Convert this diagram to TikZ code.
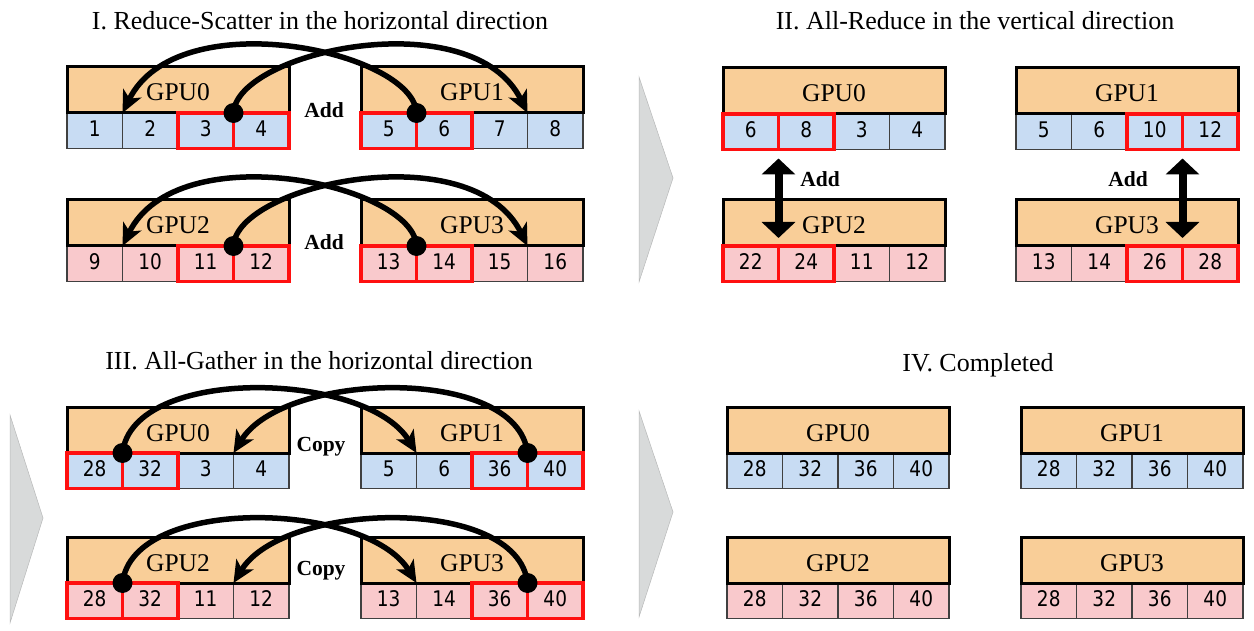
\documentclass[tikz,border=0pt]{standalone}
\usepackage{fontspec}
\setmainfont{Liberation Serif}
\newfontfamily\cellfont[FakeStretch=0.86]{DejaVu Sans}
\usetikzlibrary{arrows.meta,calc}
\definecolor{gpuor}{HTML}{F9CE98}
\definecolor{cblue}{HTML}{C8DCF3}
\definecolor{cpink}{HTML}{F9C9CC}
\definecolor{cgray}{HTML}{404040}
\definecolor{hired}{HTML}{FF1010}
\definecolor{chev}{HTML}{D8DADA}
\tikzset{
  gpubox/.style={draw=black, line width=3pt, fill=gpuor, minimum width=222pt, minimum height=46pt, inner sep=0pt, outer sep=0pt, anchor=north west},
  cellbox/.style={draw=cgray, line width=1.8pt, minimum width=55.5pt, minimum height=35.5pt, inner sep=0pt, outer sep=0pt, anchor=north west, font=\cellfont\fontsize{21.5}{24}\selectfont, text height=11.3pt, text depth=0pt},
  redline/.style={draw=hired, line width=3.2pt},
  gpulabel/.style={anchor=base, inner sep=0pt, font=\fontsize{25.5}{28}\selectfont},
  ttl/.style={anchor=base, inner sep=0pt, font=\fontsize{26}{30}\selectfont},
  oplabel/.style={anchor=base, inner sep=0pt, font=\bfseries\fontsize{21.5}{24}\selectfont},
  dotn/.style={circle, fill=black, minimum size=20pt, inner sep=0pt},
  arcline/.style={line width=5.5pt, -{Stealth[length=22pt,width=20pt,inset=6pt]}},
  dblarrow/.style={line width=8pt, {Triangle[length=16pt,width=33pt]}-{Triangle[length=16pt,width=33pt]}},
  chevron/.style={fill=chev, draw=chev!85!black, line width=0.5pt}
}
% #1 name, #2 x, #3 top y, #4 label, #5 cell fill, #6 list value/red
\newcommand\gpublk[6]{%
  \foreach \v/\r [count=\i from 0] in {#6}{
    \node[cellbox, fill=#5] (#1-c\i) at ({#2+\i*55.5},{#3+46}) {\v};
  }
  \node[gpubox] (#1) at (#2,#3) {};
  \node[gpulabel] (#1-l) at ({#2+111},{#3+34}) {#4};
  \foreach \v/\r [count=\i from 0] in {#6}{
    \ifnum\r=1 \draw[redline] (#1-c\i.north west) rectangle (#1-c\i.south east);\fi
  }
}
\begin{document}
\begin{tikzpicture}[x=1pt,y=-1pt]
\fill[white] (0,0) rectangle (1254,631);
\useasboundingbox (0,0) rectangle (1254,631);

% chevrons
\draw[chevron] (639,77) -- (673,178) -- (639,282) -- cycle;
\draw[chevron] (10,415) -- (43,518) -- (10,623) -- cycle;
\draw[chevron] (639,411) -- (673,512) -- (639,617) -- cycle;

% titles
\node[ttl] (t1) at (320,30) {I. Reduce-Scatter in the horizontal direction};
\node[ttl] (t2) at (975,30) {II. All-Reduce in the vertical direction};
\node[ttl] (t3) at (319,370) {III. All-Gather in the horizontal direction};
\node[ttl] (t4) at (978,371) {IV. Completed};

% Panel I
\gpublk{A0}{67}{67}{GPU0}{cblue}{1/0,2/0,3/1,4/1}
\gpublk{A1}{361}{67}{GPU1}{cblue}{5/1,6/1,7/0,8/0}
\gpublk{A2}{67}{200}{GPU2}{cpink}{9/0,10/0,11/1,12/1}
\gpublk{A3}{361}{200}{GPU3}{cpink}{13/1,14/1,15/0,16/0}
\node[dotn] (dA0) at (A0-c3.north west) {};
\node[dotn] (dA1) at (A1-c1.north west) {};
\node[dotn] (dA2) at (A2-c3.north west) {};
\node[dotn] (dA3) at (A3-c1.north west) {};
\draw[arcline] (dA0.center) .. controls +(3,-62) and +(-55,-112) .. (A1-c3.north west);
\draw[arcline] (dA1.center) .. controls +(-3,-62) and +(55,-112) .. (A0-c1.north west);
\draw[arcline] (dA2.center) .. controls +(3,-62) and +(-55,-112) .. (A3-c3.north west);
\draw[arcline] (dA3.center) .. controls +(-3,-62) and +(55,-112) .. (A2-c1.north west);
\node[oplabel] (add1) at (324,118) {Add};
\node[oplabel] (add2) at (324,249.5) {Add};

% Panel II
\gpublk{B0}{723}{68}{GPU0}{cblue}{6/1,8/1,3/0,4/0}
\gpublk{B1}{1016}{68}{GPU1}{cblue}{5/0,6/0,10/1,12/1}
\gpublk{B2}{723}{200}{GPU2}{cpink}{22/1,24/1,11/0,12/0}
\gpublk{B3}{1016}{200}{GPU3}{cpink}{13/0,14/0,26/1,28/1}
\coordinate (bL1) at ($(B0-c1.south west)+(0,9)$);
\coordinate (bL2) at ($(B2-c1.north west)+(0,-8)$);
\coordinate (bR1) at ($(B1-c3.south west)+(0,9)$);
\coordinate (bR2) at ($(B3-c3.north west)+(0,-8)$);
\draw[dblarrow] (bL1) -- (bL2);
\draw[dblarrow] (bR1) -- (bR2);
\node[oplabel] (add3) at (820,187) {Add};
\node[oplabel] (add4) at (1128,187) {Add};

% Panel III
\gpublk{C0}{67}{407}{GPU0}{cblue}{28/1,32/1,3/0,4/0}
\gpublk{C1}{361}{407}{GPU1}{cblue}{5/0,6/0,36/1,40/1}
\gpublk{C2}{67}{537}{GPU2}{cpink}{28/1,32/1,11/0,12/0}
\gpublk{C3}{361}{537}{GPU3}{cpink}{13/0,14/0,36/1,40/1}
\node[dotn] (dC0) at (C0-c1.north west) {};
\node[dotn] (dC1) at (C1-c3.north west) {};
\node[dotn] (dC2) at (C2-c1.north west) {};
\node[dotn] (dC3) at (C3-c3.north west) {};
\draw[arcline] (dC0.center) .. controls +(10,-88) and +(-50,-82) .. (C1-c1.north west);
\draw[arcline] (dC1.center) .. controls +(-10,-88) and +(50,-82) .. (C0-c3.north west);
\draw[arcline] (dC2.center) .. controls +(10,-88) and +(-50,-82) .. (C3-c1.north west);
\draw[arcline] (dC3.center) .. controls +(-10,-88) and +(50,-82) .. (C2-c3.north west);
\node[oplabel] (cp1) at (321,451) {Copy};
\node[oplabel] (cp2) at (321,575) {Copy};

% Panel IV
\gpublk{D0}{727}{407}{GPU0}{cblue}{28/0,32/0,36/0,40/0}
\gpublk{D1}{1021}{407}{GPU1}{cblue}{28/0,32/0,36/0,40/0}
\gpublk{D2}{727}{537}{GPU2}{cpink}{28/0,32/0,36/0,40/0}
\gpublk{D3}{1021}{537}{GPU3}{cpink}{28/0,32/0,36/0,40/0}
\end{tikzpicture}
\end{document}
